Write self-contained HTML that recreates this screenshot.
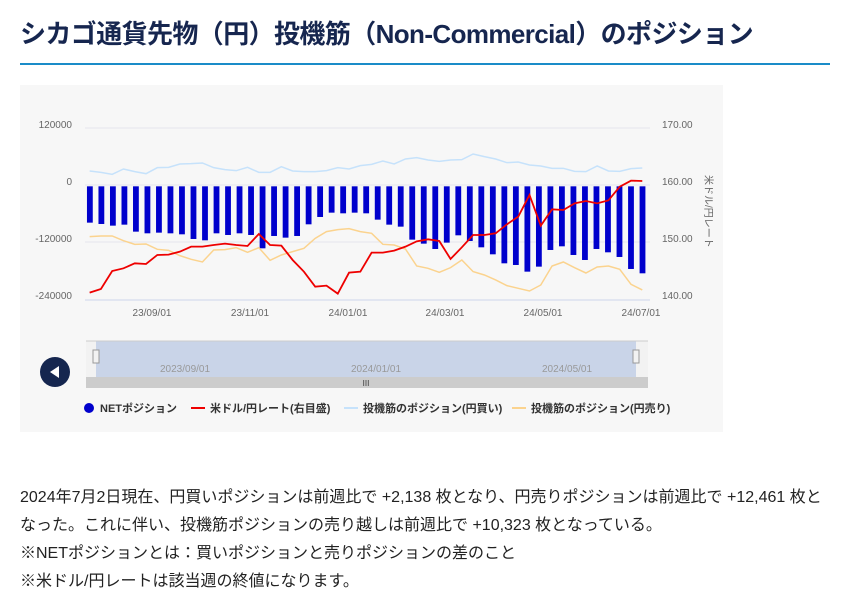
<!DOCTYPE html>
<html><head><meta charset="utf-8"><style>
body{margin:0;width:850px;height:610px;background:#fff;font-family:"Liberation Sans","Noto Sans CJK JP",sans-serif;position:relative;overflow:hidden}
h1{position:absolute;left:20px;top:14px;margin:0;font-size:26px;font-weight:bold;color:#16264f;letter-spacing:-0.6px;white-space:nowrap}
.rule{position:absolute;left:20px;top:63px;width:810px;height:2px;background:#1a8cc8}
.box{position:absolute;left:20px;top:85px;width:703px;height:347px;background:#f7f7f7}
p{position:absolute;left:20px;top:484px;margin:0;width:815px;font-size:16px;line-height:28px;color:#222}
</style></head><body>
<h1>シカゴ通貨先物（円）投機筋（Non-Commercial）のポジション</h1>
<div class="rule"></div>
<div class="box"></div>
<svg width="850" height="610" style="position:absolute;left:0;top:0" font-family="Liberation Sans, Noto Sans CJK JP, sans-serif">
<g stroke="#e4e4ec" stroke-width="1">
<line x1="85" y1="128" x2="650" y2="128"/><line x1="85" y1="185" x2="650" y2="185"/><line x1="85" y1="242" x2="650" y2="242"/><line x1="85" y1="300" x2="650" y2="300" stroke="#ccd6eb"/>
</g>
<g font-size="10" fill="#666">
<text x="72" y="128" text-anchor="end">120000</text><text x="72" y="185" text-anchor="end">0</text><text x="72" y="242" text-anchor="end">-120000</text><text x="72" y="299" text-anchor="end">-240000</text>
<text x="662" y="128">170.00</text><text x="662" y="185">160.00</text><text x="662" y="242">150.00</text><text x="662" y="299">140.00</text>
<text x="152" y="316" text-anchor="middle">23/09/01</text><text x="250" y="316" text-anchor="middle">23/11/01</text><text x="348" y="316" text-anchor="middle">24/01/01</text><text x="445" y="316" text-anchor="middle">24/03/01</text><text x="543" y="316" text-anchor="middle">24/05/01</text><text x="641" y="316" text-anchor="middle">24/07/01</text>
<text x="705" y="175" font-size="10" transform="rotate(90 705 175)" fill="#666">米ドル/円レート</text>
</g>
<g transform="translate(20,85) scale(0.4464,0.3333)">
<g fill="#0000cc" id="bars"></g>
<polyline id="lb" fill="none" stroke="#c6e2fb" stroke-width="1.5" vector-effect="non-scaling-stroke"/>
<polyline id="or" fill="none" stroke="#fbd38e" stroke-width="1.5" vector-effect="non-scaling-stroke"/>
<polyline id="rd" fill="none" stroke="#ee0000" stroke-width="1.8" vector-effect="non-scaling-stroke"/>
</g>
<rect x="86" y="341" width="562" height="36" fill="#f2f2f2"/>
<rect x="96" y="341" width="540" height="36" fill="#c9d4e8"/>
<line x1="86" y1="341" x2="648" y2="341" stroke="#ccc"/>
<g font-size="10" fill="#999"><text x="160" y="372">2023/09/01</text><text x="351" y="372">2024/01/01</text><text x="542" y="372">2024/05/01</text></g>
<rect x="93" y="350" width="6" height="13" fill="#f2f2f2" stroke="#999"/><rect x="633" y="350" width="6" height="13" fill="#f2f2f2" stroke="#999"/>
<rect x="86" y="377" width="562" height="11" fill="#ccc"/>
<text x="366" y="386" font-size="8" fill="#333" text-anchor="middle">III</text>
<circle cx="55" cy="372" r="15" fill="#15264f"/><polygon points="50,372 59,366 59,378" fill="#fff"/>
<g font-size="11" font-weight="bold" fill="#333">
<circle cx="89" cy="408" r="5" fill="#0000cc"/><text x="100" y="412">NETポジション</text>
<line x1="191" y1="408" x2="205" y2="408" stroke="#e00" stroke-width="2"/><text x="210" y="412">米ドル/円レート(右目盛)</text>
<line x1="344" y1="408" x2="358" y2="408" stroke="#c6e2fb" stroke-width="2"/><text x="363" y="412">投機筋のポジション(円買い)</text>
<line x1="512" y1="408" x2="526" y2="408" stroke="#fbd38e" stroke-width="2"/><text x="531" y="412">投機筋のポジション(円売り)</text>
</g>
</svg>
<p>2024年7月2日現在、円買いポジションは前週比で +2,138 枚となり、円売りポジションは前週比で +12,461 枚となった。これに伴い、投機筋ポジションの売り越しは前週比で +10,323 枚となっている。<br>※NETポジションとは：買いポジションと売りポジションの差のこと<br>※米ドル/円レートは該当週の終値になります。</p>
<script>
var b=[413,417,422,419,440,445,443,445,448,462,466,445,450,445,450,490,453,458,453,418,396,383,385,383,385,404,419,425,464,476,492,473,451,468,487,508,535,540,560,545,495,484,510,525,492,502,516,552,565];
var g=document.getElementById('bars'),h='',x0=150,x1=1388,s=(x1-x0)/(b.length-1);
b.forEach(function(v,i){h+='<rect x="'+(x0+i*s)+'" y="304" width="13" height="'+(v-304)+'"/>';});
g.innerHTML=h;
function pl(id,a){var st=(1394-156)/(a.length-1);document.getElementById(id).setAttribute('points',a.map(function(v,i){return (156+i*st)+','+v}).join(' '));}
pl('lb',[258,262,268,252,260,266,248,247,237,236,234,248,254,257,247,262,262,245,258,260,260,257,248,252,242,238,228,237,222,218,225,229,225,224,207,215,222,233,231,240,243,250,250,259,260,243,258,259,251,249]);
pl('or',[455,453,453,467,478,477,493,496,512,523,531,495,494,488,502,488,526,510,500,490,460,440,434,431,440,445,478,480,492,543,550,562,548,525,560,570,585,602,610,618,600,543,531,548,564,546,543,553,598,615]);
pl('rd',[623,612,558,550,535,537,510,509,500,485,485,480,476,480,483,447,480,482,525,560,605,602,626,563,560,503,503,497,485,469,463,468,522,487,450,450,445,418,395,330,422,373,375,355,348,355,346,305,287,288]);
</script>
</body></html>
